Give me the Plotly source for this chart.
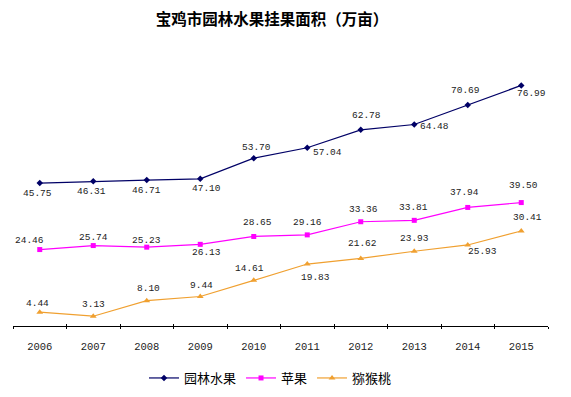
import plotly.graph_objects as go

# ---- data ----
years = ["2006", "2007", "2008", "2009", "2010", "2011", "2012", "2013", "2014", "2015"]
garden = [45.75, 46.31, 46.71, 47.10, 53.70, 57.04, 62.78, 64.48, 70.69, 76.99]
apple = [24.46, 25.74, 25.23, 26.13, 28.65, 29.16, 33.36, 33.81, 37.94, 39.50]
kiwi = [4.44, 3.13, 8.10, 9.44, 14.61, 19.83, 21.62, 23.93, 25.93, 30.41]
series_names = ["园林水果", "苹果", "猕猴桃"]
title_text = "宝鸡市园林水果挂果面积（万亩）"

# ---- label offsets in pixels (dx right, dy down) ----
garden_off = [(-2, 10), (-2, 10), (0, 10), (6, 10), (3, -11), (20, 5), (6, -14), (20, 2), (-2, -15), (10, 8)]
apple_off = [(-10, -9), (0, -8), (0, -7), (6, 8), (4, -14), (0, -12), (3, -12), (-1, -13), (-3, -15), (2, -17)]
kiwi_off = [(-2, -9), (0, -12), (2, -12), (1, -11), (-4, -12), (8, 13), (2, -15), (0, -13), (15, 7), (6, -13)]

colors = ["#000066", "#FF00FF", "#F0A030"]
symbols = ["diamond", "square", "triangle-up"]
msizes = [5, 5, 6]

# page body has an 8px margin: figure is laid out in (window - 8) coordinates
W, H = 555, 381

fig = go.Figure()
all_vals = [garden, apple, kiwi]
all_offs = [garden_off, apple_off, kiwi_off]
for name, vals, c, s, ms in zip(series_names, all_vals, colors, symbols, msizes):
    fig.add_trace(go.Scatter(
        x=years, y=vals, name=name, mode="lines+markers",
        line=dict(color=c, width=1.2),
        marker=dict(color=c, symbol=s, size=ms),
        hoverinfo="skip",
    ))

# empty trace for crossing tick overlay axis
fig.add_trace(go.Scatter(x=[], y=[], xaxis="x2", showlegend=False, hoverinfo="skip"))

annotations = []
for vals, offs in zip(all_vals, all_offs):
    for i, (v, (dx, dy)) in enumerate(zip(vals, offs)):
        annotations.append(dict(
            x=i, y=v, xref="x", yref="y", text=f"{v:.2f}", showarrow=False,
            xshift=dx, yshift=-dy,
            font=dict(family="Liberation Mono", size=9.5, color="#222222"),
        ))

fig.update_layout(
    template="none",
    width=W, height=H,
    margin=dict(l=5, r=15, t=68, b=63, autoexpand=False),
    paper_bgcolor="white", plot_bgcolor="white",
    title=dict(
        text=title_text, x=264 / W, xanchor="center", xref="container",
        y=1 - 12 / H, yanchor="middle", yref="container",
        font=dict(family="Noto Sans CJK SC", size=15.5, color="#000000", weight="bold"),
    ),
    xaxis=dict(
        type="category", categoryorder="array", categoryarray=years,
        showline=True, linecolor="#000000", linewidth=1,
        ticks="outside", ticklen=2, tickcolor="#000000", tickson="boundaries",
        showgrid=False, zeroline=False, automargin=False,
        tickfont=dict(family="Liberation Mono", size=10.5, color="#222222"),
        ticklabelstandoff=10,
        range=[-0.5, 9.5],
    ),
    xaxis2=dict(
        overlaying="x", anchor="y", side="bottom", range=[0, 10],
        tickvals=list(range(11)), ticks="inside", ticklen=2, tickcolor="#000000",
        showticklabels=False, showline=False, showgrid=False, zeroline=False,
        automargin=False,
    ),
    yaxis=dict(range=[0, 80], visible=False, showgrid=False, zeroline=False, automargin=False),
    showlegend=True,
    legend=dict(
        orientation="h", x=(144 - 13) / 535, xanchor="left",
        y=-52 / 250, yanchor="middle",
        font=dict(family="Noto Sans CJK SC", size=13, color="#000000"),
        bgcolor="rgba(0,0,0,0)",
    ),
    annotations=annotations,
)

fig.write_html("out.html")
